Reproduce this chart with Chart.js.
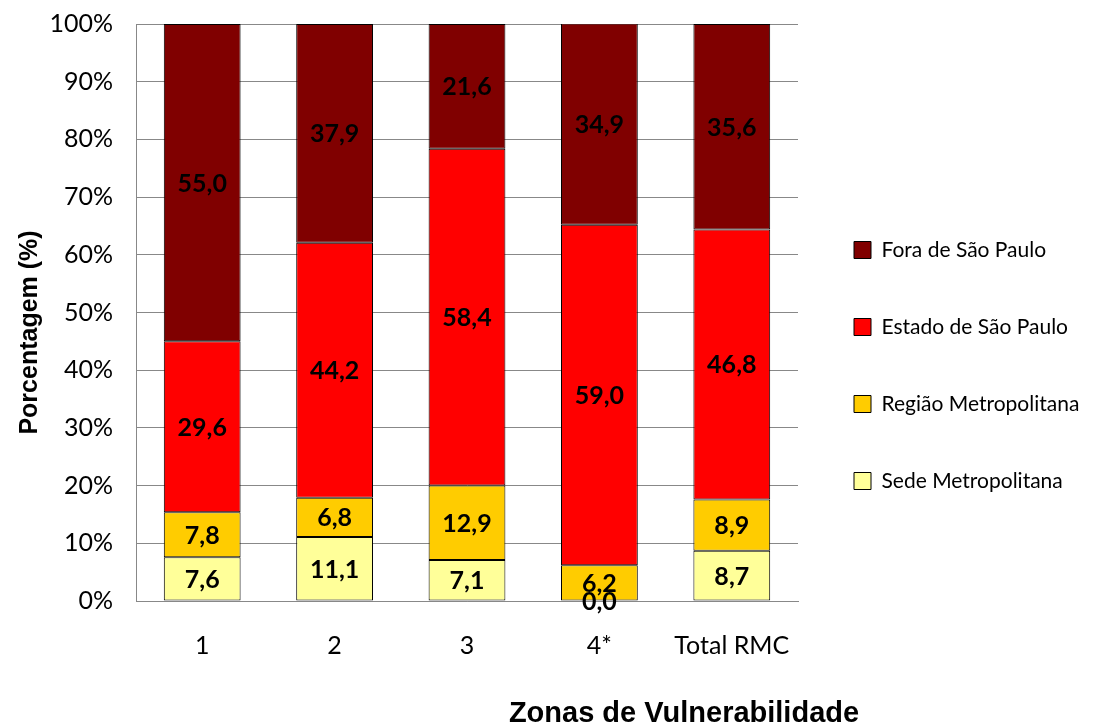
<!DOCTYPE html>
<html>
<head>
<meta charset="utf-8">
<script src="https://cdn.jsdelivr.net/npm/chart.js@4/dist/chart.umd.min.js"></script>
<style>
  html, body { margin: 0; padding: 0; background: #fff; }
  #wrap { width: 1110px; height: 723px; }
</style>
</head>
<body>
<div id="wrap"><canvas id="chart" width="1110" height="723"></canvas></div>
<script>
const zonas = ['1', '2', '3', '4*', 'Total RMC'];
const sedeMetropolitana = [7.6, 11.1, 7.1, 0.0, 8.7];
const regiaoMetropolitana = [7.8, 6.8, 12.9, 6.2, 8.9];
const estadoSaoPaulo = [29.6, 44.2, 58.4, 59.0, 46.8];
const foraSaoPaulo = [55.0, 37.9, 21.6, 34.9, 35.6];

// rótulos no meio de cada segmento
const barLabels = {
    id: 'barLabels',
    afterDatasetsDraw(chart) {
        const ctx = chart.ctx;
        ctx.save();
        ctx.font = 'bold 25px Lato';
        ctx.fillStyle = '#000';
        ctx.textAlign = 'center';
        ctx.textBaseline = 'middle';
        chart.data.datasets.forEach((ds, i) => {
            const meta = chart.getDatasetMeta(i);
            meta.data.forEach((bar, j) => {
                const p = bar.getProps(['x', 'y', 'base'], true);
                const txt = ds.data[j].toFixed(1).replace('.', ',');
                ctx.fillText(txt, p.x, (p.y + p.base) / 2 + 1);
            });
        });
        ctx.restore();
    }
};

// títulos dos eixos (fora do centro, como no original)
const axisTitles = {
    id: 'axisTitles',
    afterDraw(chart) {
        const ctx = chart.ctx;
        const area = chart.chartArea;
        ctx.save();
        ctx.fillStyle = '#000';
        ctx.textAlign = 'center';
        ctx.textBaseline = 'middle';
        ctx.font = 'bold 29px "Liberation Sans"';
        ctx.fillText('Zonas de Vulnerabilidade', area.right - 114, 714);
        ctx.translate(30, (area.top + area.bottom) / 2 + 20);
        ctx.rotate(-Math.PI / 2);
        ctx.font = 'bold 25px "Liberation Sans"';
        ctx.fillText('Porcentagem (%)', 0, 0);
        ctx.restore();
    }
};

// largura fixa da legenda
const legendWidth = {
    id: 'legendWidth',
    afterInit(chart) {
        const lg = chart.legend;
        const fit = lg.fit;
        lg.fit = function () {
            fit.call(this);
            this.width = 312;
        };
    }
};

const ctx = document.getElementById('chart').getContext('2d');
new Chart(ctx, {
    type: 'bar',
    data: {
        labels: zonas,
        datasets: [
            { label: 'Sede Metropolitana', data: sedeMetropolitana, backgroundColor: '#FFFF99' },
            { label: 'Região Metropolitana', data: regiaoMetropolitana, backgroundColor: '#FFCC00' },
            { label: 'Estado de São Paulo', data: estadoSaoPaulo, backgroundColor: '#FF0000' },
            { label: 'Fora de São Paulo', data: foraSaoPaulo, backgroundColor: '#800000' }
        ].map(d => Object.assign(d, {
            borderColor: '#000',
            borderWidth: 1,
            borderSkipped: false,
            barPercentage: 0.58,
            categoryPercentage: 1
        }))
    },
    options: {
        responsive: false,
        animation: false,
        layout: { padding: { top: 8, left: 0, right: 0, bottom: 0 } },
        plugins: {
            legend: {
                position: 'right',
                reverse: true,
                labels: {
                    color: '#000',
                    font: { family: 'Lato', size: 21 },
                    boxWidth: 17,
                    boxHeight: 17,
                    padding: 56
                }
            },
            tooltip: { enabled: false }
        },
        scales: {
            x: {
                stacked: true,
                grid: { display: false },
                border: { color: '#888' },
                ticks: { color: '#000', font: { family: 'Lato', size: 25 }, padding: 22 },
                afterFit: s => { s.height = 122; }
            },
            y: {
                stacked: true,
                min: 0,
                max: 100,
                grid: { color: '#888', drawTicks: false },
                border: { color: '#888' },
                ticks: {
                    stepSize: 10,
                    color: '#000',
                    font: { family: 'Lato', size: 25 },
                    padding: 23,
                    callback: v => v + '%'
                },
                afterFit: s => { s.width = 136; s.paddingTop = 24; }
            }
        }
    },
    plugins: [barLabels, axisTitles, legendWidth]
});
</script>
</body>
</html>
